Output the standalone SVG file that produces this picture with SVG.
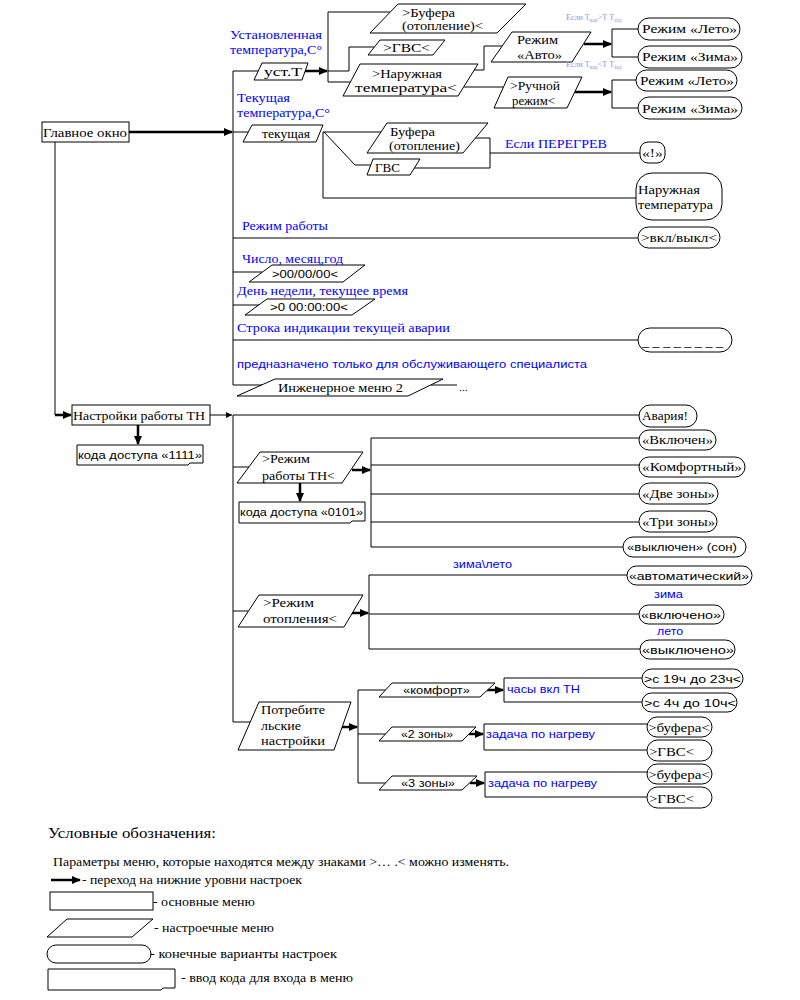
<svg xmlns="http://www.w3.org/2000/svg" width="800" height="1000" viewBox="0 0 800 1000" font-family="'Liberation Serif', 'Times New Roman', serif">
<defs>
<marker id="ah" markerWidth="9" markerHeight="8" refX="8" refY="4" orient="auto" markerUnits="userSpaceOnUse"><path d="M0,0 L9,4 L0,8 z" fill="#000"/></marker>
<marker id="as" markerWidth="6" markerHeight="6" refX="6" refY="3" orient="auto" markerUnits="userSpaceOnUse"><path d="M0,0 L6,3 L0,6 z" fill="#000"/></marker>
<style>
.sh{fill:#fff;stroke:#000;stroke-width:1}
.ln{fill:none;stroke:#000;stroke-width:1}
.tk{fill:none;stroke:#000;stroke-width:2.5;marker-end:url(#ah)}
text{font-family:'Liberation Serif','Times New Roman',serif;font-size:13px;fill:#000}
text.a{font-family:'Liberation Sans',Arial,sans-serif;font-size:10.5px}
text.b{fill:#0000ff}
text.sm{font-size:8px;fill:#8f8fef}
text.lg{font-size:12.5px}
text.hd{font-size:14.5px}
</style>
</defs>
<rect width="800" height="1000" fill="#fff"/>

<g id="connectors">
<path class="tk" d="M129,132 H232"/>
<path class="ln" d="M258,71 H233 V385 H262"/>
<path class="ln" d="M233,132 H249"/>
<path class="ln" d="M233,238 H638"/>
<path class="ln" d="M233,272 H262"/>
<path class="ln" d="M233,305 H259"/>
<path class="ln" d="M233,340 H638"/>
<path class="ln" d="M431,385 H457"/>
<path class="tk" d="M305,71 H327"/>
<path class="ln" d="M390,12 H328 V82 H351"/>
<path class="ln" d="M328,71 H349 V47 H375"/>
<path class="ln" d="M474,70 H484 V46 H502"/>
<path class="ln" d="M464,87 H503"/>
<path class="tk" d="M584,44 H611"/>
<path class="tk" d="M575,92 H611"/>
<path class="ln" d="M638,29 H612 V57 H638"/>
<path class="ln" d="M636,80 H612 V108 H638"/>
<path class="ln" d="M323,132 H381"/>
<path class="ln" d="M324,132 L355,165 H371"/>
<path class="ln" d="M323,132 V198 H636"/>
<path class="ln" d="M475,138 H490 V168 H414"/>
<path class="ln" d="M490,153 H640"/>
<path class="ln" d="M55,142 V415"/>
<path class="tk" d="M55,415 H71"/>
<path class="ln" d="M210,415 H232" marker-end="url(#as)"/>
<path class="ln" d="M233,415 H639"/>
<path class="tk" d="M138,425 V444"/>
<path class="ln" d="M233,415 V722 H250"/>
<path class="ln" d="M233,467 H249"/>
<path class="ln" d="M233,611 H248"/>
<path class="tk" d="M352,470 H370"/>
<path class="tk" d="M300,483 V501"/>
<path class="ln" d="M371,438 V547"/>
<path class="ln" d="M371,438 H639 M371,465 H639 M371,494 H639 M371,522 H639 M371,547 H623"/>
<path class="tk" d="M350,613 H368"/>
<path class="ln" d="M369,575 V649"/>
<path class="ln" d="M369,575 H627 M369,614 H639 M369,649 H640"/>
<path class="tk" d="M341,727 H357"/>
<path class="ln" d="M358,690 V783"/>
<path class="ln" d="M358,690 H386 M358,734 H386 M358,783 H386"/>
<path class="tk" d="M487,690 H503"/>
<path class="tk" d="M469,734 H483"/>
<path class="tk" d="M470,783 H484"/>
<path class="ln" d="M642,678 H504 V702 H642"/>
<path class="ln" d="M647,724 H484 V750 H647"/>
<path class="ln" d="M647,772 H485 V797 H647"/>
</g>

<g id="n-main"><rect class="sh" x="42" y="122" width="87" height="20"/><text x="43" y="137" textLength="84" lengthAdjust="spacingAndGlyphs">Главное окно</text></g>

<g id="lbl-set"><text class="b" x="230" y="39" textLength="92" lengthAdjust="spacingAndGlyphs">Установленная</text><text class="b" x="230" y="54" textLength="92" lengthAdjust="spacingAndGlyphs">температура,С°</text></g>
<g id="n-ustT"><polygon class="sh" points="262,63 308,63 302,80 254,80"/><text x="264" y="76" textLength="38" lengthAdjust="spacingAndGlyphs">уст.Т</text></g>
<g id="n-bufSet"><polygon class="sh" points="398,4 526,4 497,33 370,33"/><text x="402" y="17" textLength="53" lengthAdjust="spacingAndGlyphs">&gt;Буфера</text><text x="402" y="30" textLength="81" lengthAdjust="spacingAndGlyphs">(отопление)&lt;</text></g>
<g id="n-gvsSet"><polygon class="sh" points="380,40 445,40 433,55 368,55"/><text x="383" y="52" textLength="47" lengthAdjust="spacingAndGlyphs">&gt;ГВС&lt;</text></g>
<g id="n-outSet"><polygon class="sh" points="360,64 478,64 458,96 343,96"/><text x="372" y="78" textLength="70" lengthAdjust="spacingAndGlyphs">&gt;Наружная</text><text x="355" y="92" textLength="102" lengthAdjust="spacingAndGlyphs">температура&lt;</text></g>
<g id="n-auto"><polygon class="sh" points="512,32 591,32 572,62 491,62"/><text x="517" y="44" textLength="41" lengthAdjust="spacingAndGlyphs">Режим</text><text x="517" y="59" textLength="45" lengthAdjust="spacingAndGlyphs">«Авто»</text></g>
<g id="n-manual"><polygon class="sh" points="508,77 582,77 567,108 494,108"/><text x="510" y="90" textLength="50" lengthAdjust="spacingAndGlyphs">&gt;Ручной</text><text x="512" y="105" textLength="43" lengthAdjust="spacingAndGlyphs">режим&lt;</text></g>
<g id="lbl-cond"><text class="sm" x="566" y="20">Если Т<tspan font-size="5.5" dy="1.5">нар</tspan><tspan dy="-1.5">&gt;Т Т</tspan><tspan font-size="5.5" dy="1.5">зад</tspan></text><text class="sm" x="566" y="67">Если Т<tspan font-size="5.5" dy="1.5">нар</tspan><tspan dy="-1.5">&lt;Т Т</tspan><tspan font-size="5.5" dy="1.5">зад</tspan></text></g>
<g id="n-summer1"><rect class="sh" x="638" y="18" width="102" height="22" rx="11"/><text x="642" y="33" textLength="95" lengthAdjust="spacingAndGlyphs">Режим «Лето»</text></g>
<g id="n-winter1"><rect class="sh" x="638" y="46" width="104" height="22" rx="11"/><text x="642" y="61" textLength="96" lengthAdjust="spacingAndGlyphs">Режим «Зима»</text></g>
<g id="n-summer2"><rect class="sh" x="636" y="70" width="101" height="21" rx="10.5"/><text x="640" y="85" textLength="94" lengthAdjust="spacingAndGlyphs">Режим «Лето»</text></g>
<g id="n-winter2"><rect class="sh" x="638" y="97" width="104" height="22" rx="11"/><text x="642" y="113" textLength="96" lengthAdjust="spacingAndGlyphs">Режим «Зима»</text></g>

<g id="lbl-cur"><text class="b" x="237" y="102" textLength="53" lengthAdjust="spacingAndGlyphs">Текущая</text><text class="b" x="237" y="117" textLength="93" lengthAdjust="spacingAndGlyphs">температура,С°</text></g>
<g id="n-cur"><polygon class="sh" points="252,125 323,125 316,142 243,142"/><text x="262" y="138" textLength="48" lengthAdjust="spacingAndGlyphs">текущая</text></g>
<g id="n-bufCur"><polygon class="sh" points="387,123 488,123 463,153 367,153"/><text x="390" y="136" textLength="45" lengthAdjust="spacingAndGlyphs">Буфера</text><text x="389" y="150" textLength="71" lengthAdjust="spacingAndGlyphs">(отопление)</text></g>
<g id="n-gvsCur"><polygon class="sh" points="373,159 420,159 410,175 367,175"/><text x="375" y="172" textLength="25" lengthAdjust="spacingAndGlyphs">ГВС</text></g>
<g id="lbl-overheat"><text class="b" x="505" y="148" textLength="102" lengthAdjust="spacingAndGlyphs">Если ПЕРЕГРЕВ</text></g>
<g id="n-excl"><rect class="sh" x="640" y="142" width="25" height="21" rx="8"/><text x="642" y="157" textLength="21" lengthAdjust="spacingAndGlyphs">«!»</text></g>
<g id="n-outCur"><rect class="sh" x="636" y="173" width="86" height="47" rx="16"/><text x="638" y="194" textLength="62" lengthAdjust="spacingAndGlyphs">Наружная</text><text x="638" y="209" textLength="75" lengthAdjust="spacingAndGlyphs">температура</text></g>

<g id="lbl-mode"><text class="b" x="242" y="230" textLength="86" lengthAdjust="spacingAndGlyphs">Режим работы</text></g>
<g id="n-onoff"><rect class="sh" x="638" y="227" width="82" height="21" rx="10.5"/><text x="641" y="242" textLength="76" lengthAdjust="spacingAndGlyphs">&gt;вкл/выкл&lt;</text></g>
<g id="lbl-date"><text class="b" x="242" y="263" textLength="101" lengthAdjust="spacingAndGlyphs">Число, месяц,год</text></g>
<g id="n-date"><polygon class="sh" points="272,265 365,265 343,282 249,282"/><text class="a" x="272" y="278" textLength="66" lengthAdjust="spacingAndGlyphs">&gt;00/00/00&lt;</text></g>
<g id="lbl-time"><text class="b" x="237" y="295" textLength="171" lengthAdjust="spacingAndGlyphs">День недели, текущее время</text></g>
<g id="n-time"><polygon class="sh" points="267,299 375,299 352,315 245,315"/><text class="a" x="270" y="311" textLength="78" lengthAdjust="spacingAndGlyphs">&gt;0 00:00:00&lt;</text></g>
<g id="lbl-alarm"><text class="b" x="237" y="332" textLength="213" lengthAdjust="spacingAndGlyphs">Строка индикации текущей аварии</text></g>
<g id="n-alarmline"><rect class="sh" x="638" y="328" width="94" height="24" rx="12"/><text class="a" x="642" y="346" textLength="81" lengthAdjust="spacingAndGlyphs">_ _ _ _ _ _ _ _</text></g>
<g id="lbl-service"><text class="b a" x="237" y="368" textLength="350" lengthAdjust="spacingAndGlyphs">предназначено только для обслуживающего специалиста</text></g>
<g id="n-eng"><polygon class="sh" points="275,379 443,379 408,396 237,396"/><text x="278" y="392" textLength="125" lengthAdjust="spacingAndGlyphs">Инженерное меню 2</text><text class="a" x="459" y="391">...</text></g>

<g id="n-settings"><rect class="sh" x="72" y="405" width="138" height="20"/><text x="73" y="420" textLength="132" lengthAdjust="spacingAndGlyphs">Настройки работы ТН</text></g>
<g id="n-code1"><path class="sh" d="M77,445 H203 V463 H190 L188,465 H77 Z"/><text class="a" x="78" y="459" textLength="124" lengthAdjust="spacingAndGlyphs">кода доступа «1111»</text></g>
<g id="n-alarmOut"><rect class="sh" x="639" y="405" width="58" height="22" rx="11"/><text x="642" y="420" textLength="46" lengthAdjust="spacingAndGlyphs">Авария!</text></g>
<g id="n-modeTN"><polygon class="sh" points="260,452 363,452 342,483 237,483"/><text x="262" y="463" textLength="48" lengthAdjust="spacingAndGlyphs">&gt;Режим</text><text x="262" y="480" textLength="73" lengthAdjust="spacingAndGlyphs">работы ТН&lt;</text></g>
<g id="n-code2"><path class="sh" d="M239,502 H365 V521 H352 L350,523 H239 Z"/><text class="a" x="240" y="516" textLength="123" lengthAdjust="spacingAndGlyphs">кода доступа «0101»</text></g>
<g id="n-on"><rect class="sh" x="639" y="430" width="77" height="20" rx="10"/><text x="642" y="444" textLength="71" lengthAdjust="spacingAndGlyphs">«Включен»</text></g>
<g id="n-comfort"><rect class="sh" x="639" y="457" width="106" height="20" rx="10"/><text x="642" y="471" textLength="100" lengthAdjust="spacingAndGlyphs">«Комфортный»</text></g>
<g id="n-two"><rect class="sh" x="639" y="483" width="79" height="21" rx="10.5"/><text x="642" y="498" textLength="73" lengthAdjust="spacingAndGlyphs">«Две зоны»</text></g>
<g id="n-three"><rect class="sh" x="639" y="511" width="78" height="21" rx="10.5"/><text x="642" y="526" textLength="73" lengthAdjust="spacingAndGlyphs">«Три зоны»</text></g>
<g id="n-off"><rect class="sh" x="623" y="537" width="123" height="20" rx="10"/><text class="a" x="627" y="551" textLength="110" lengthAdjust="spacingAndGlyphs">«выключен» (сон)</text></g>

<g id="lbl-wl"><text class="b a" x="453" y="568" textLength="59" lengthAdjust="spacingAndGlyphs">зима\лето</text></g>
<g id="n-heat"><polygon class="sh" points="259,595 363,595 344,627 238,627"/><text x="263" y="607" textLength="51" lengthAdjust="spacingAndGlyphs">&gt;Режим</text><text x="263" y="623" textLength="74" lengthAdjust="spacingAndGlyphs">отопления&lt;</text></g>
<g id="n-auto2"><rect class="sh" x="627" y="566" width="125" height="19" rx="9.5"/><text class="a" x="629" y="580" textLength="120" lengthAdjust="spacingAndGlyphs">«автоматический»</text></g>
<g id="lbl-w"><text class="b a" x="654" y="598" textLength="29" lengthAdjust="spacingAndGlyphs">зима</text></g>
<g id="n-incl"><rect class="sh" x="639" y="605" width="85" height="19" rx="9.5"/><text class="a" x="641" y="619" textLength="80" lengthAdjust="spacingAndGlyphs">«включено»</text></g>
<g id="lbl-s"><text class="b a" x="657" y="635" textLength="26" lengthAdjust="spacingAndGlyphs">лето</text></g>
<g id="n-excl2"><rect class="sh" x="640" y="640" width="95" height="19" rx="9.5"/><text class="a" x="642" y="654" textLength="92" lengthAdjust="spacingAndGlyphs">«выключено»</text></g>

<g id="n-user"><polygon class="sh" points="259,702 351,702 334,750 238,750"/><text x="261" y="714" textLength="64" lengthAdjust="spacingAndGlyphs">Потребите</text><text x="261" y="730" textLength="40" lengthAdjust="spacingAndGlyphs">льские</text><text x="261" y="745" textLength="64" lengthAdjust="spacingAndGlyphs">настройки</text></g>
<g id="n-comf"><polygon class="sh" points="392,683 495,683 480,697 379,697"/><text class="a" x="403" y="694" textLength="67" lengthAdjust="spacingAndGlyphs">«комфорт»</text></g>
<g id="lbl-hours"><text class="b a" x="507" y="693" textLength="73" lengthAdjust="spacingAndGlyphs">часы вкл ТН</text></g>
<g id="n-h19"><rect class="sh" x="642" y="669" width="101" height="19" rx="9.5"/><text class="a" x="644" y="683" textLength="97" lengthAdjust="spacingAndGlyphs">&gt;с 19ч  до 23ч&lt;</text></g>
<g id="n-h4"><rect class="sh" x="642" y="693" width="95" height="19" rx="9.5"/><text class="a" x="644" y="707" textLength="92" lengthAdjust="spacingAndGlyphs">&gt;с 4ч до 10ч&lt;</text></g>
<g id="n-z2"><polygon class="sh" points="392,727 476,727 462,741 379,741"/><text class="a" x="401" y="738" textLength="52" lengthAdjust="spacingAndGlyphs">«2 зоны»</text></g>
<g id="lbl-task1"><text class="b a" x="486" y="738" textLength="109" lengthAdjust="spacingAndGlyphs">задача по нагреву</text></g>
<g id="n-buf1"><rect class="sh" x="647" y="717" width="65" height="20" rx="10"/><text x="648" y="732" textLength="62" lengthAdjust="spacingAndGlyphs">&gt;буфера&lt;</text></g>
<g id="n-gvs1"><rect class="sh" x="647" y="740" width="65" height="21" rx="10.5"/><text x="649" y="756" textLength="45" lengthAdjust="spacingAndGlyphs">&gt;ГВС&lt;</text></g>
<g id="n-z3"><polygon class="sh" points="392,776 477,776 462,790 379,790"/><text class="a" x="401" y="787" textLength="54" lengthAdjust="spacingAndGlyphs">«3 зоны»</text></g>
<g id="lbl-task2"><text class="b a" x="488" y="787" textLength="109" lengthAdjust="spacingAndGlyphs">задача по нагреву</text></g>
<g id="n-buf2"><rect class="sh" x="647" y="764" width="65" height="20" rx="10"/><text x="648" y="779" textLength="62" lengthAdjust="spacingAndGlyphs">&gt;буфера&lt;</text></g>
<g id="n-gvs2"><rect class="sh" x="647" y="787" width="65" height="21" rx="10.5"/><text x="649" y="803" textLength="45" lengthAdjust="spacingAndGlyphs">&gt;ГВС&lt;</text></g>

<g id="legend">
<text class="hd" x="48" y="838" textLength="168" lengthAdjust="spacingAndGlyphs">Условные обозначения:</text>
<text class="lg" x="53" y="866" textLength="456" lengthAdjust="spacingAndGlyphs">Параметры меню, которые находятся между знаками &gt;… .&lt; можно изменять.</text>
<path class="tk" d="M51,880 H80"/>
<text class="lg" x="82" y="884" textLength="220" lengthAdjust="spacingAndGlyphs">- переход на нижние уровни настроек</text>
<rect class="sh" x="50" y="892" width="103" height="18"/>
<text class="lg" x="153" y="906" textLength="102" lengthAdjust="spacingAndGlyphs">- основные меню</text>
<polygon class="sh" points="67,919 153,919 132,937 47,937"/>
<text class="lg" x="154" y="932" textLength="120" lengthAdjust="spacingAndGlyphs">- настроечные меню</text>
<rect class="sh" x="47" y="945" width="104" height="18" rx="9"/>
<text class="lg" x="150" y="958" textLength="187" lengthAdjust="spacingAndGlyphs">- конечные варианты настроек</text>
<path class="sh" d="M48,969 H175 V988 H163 L161,990 H48 Z"/>
<text class="lg" x="181" y="982" textLength="172" lengthAdjust="spacingAndGlyphs">- ввод кода для входа в меню</text>
</g>
</svg>
